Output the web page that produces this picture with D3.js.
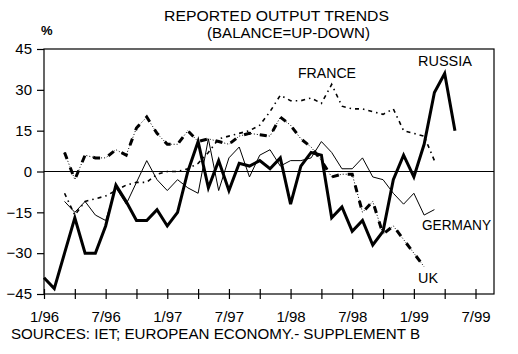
<!DOCTYPE html>
<html>
<head>
<meta charset="utf-8">
<script src="https://cdn.jsdelivr.net/npm/d3@7"></script>
<style>
  body { margin: 0; background: #fff; }
  svg text { font-family: "Liberation Sans", Arial, sans-serif; fill: #000; }
</style>
</head>
<body>
<div class="chartContainer"></div>
<script>
// month index 0 = 1/96
const months = d3.range(0, 41);
const tickLabels = ["1/96", "7/96", "1/97", "7/97", "1/98", "7/98", "1/99", "7/99"];
const yTicks = [-45, -30, -15, 0, 15, 30, 45];

const russia = [-39, -43, -30, -17, -30, -30, -20, -5, -11, -18, -18, -14, -20, -15, 0, 11, -6, 4, -7, 3,
  2, 4, 1, 5, -12, 2, 7, 6, -17, -13, -22, -18, -27, -22, -3, 6, -2, 10, 29, 36, 15];
const france = [null, null, -8, -16, -11, -10, -9, -7, -5, -4, -4, -1, 0, 0, 1, 3, 7, 12, 13, 14,
  15, 17, 22, 28, 26, 26, 27, 25, 32, 24, 23, 23, 22, 21, 23, 15, 14, 13, 4, null, null];
const germany = [null, null, -11, -15, -11, -16, -18, -6, -12, -4, 4, -3, -7, -3, -6, -8, 12, -7, 5, 9,
  -2, 6, 8, 2, 4, 4, 5, 11, 7, 1, 1, 5, -2, -3, -8, -12, -8, -16, -14, null, null];
const uk = [null, null, 7, -3, 6, 5, 5, 8, 6, 16, 20, 14, 10, 10, 15, 11, 12, 11, 10, 13,
  14, 13.5, 13, 20, 17, 12, 9, 4, -2, -1, -1, -15, -11, -23, -20, -25, -30, -35, null, null, null];

(function () {
  const w = 518;
  const h = 354;
  const pLeft = 44;
  const pRight = 494;
  const pTop = 49;
  const pBottom = 294;
  const xMax = 43.8;

  const svg = d3
    .select(".chartContainer")
    .append("svg")
    .attr("width", w)
    .attr("height", h);

  const xScale = d3.scaleLinear().domain([0, xMax]).range([pLeft, pRight]);
  const yScale = d3.scaleLinear().domain([-45, 45]).range([pBottom, pTop]);

  // titles
  svg.append("text")
    .attr("x", 276.5).attr("y", 21)
    .attr("text-anchor", "middle")
    .attr("textLength", 225).attr("lengthAdjust", "spacingAndGlyphs")
    .style("font-size", "14px")
    .text("REPORTED OUTPUT TRENDS");
  svg.append("text")
    .attr("x", 288.5).attr("y", 38)
    .attr("text-anchor", "middle")
    .attr("textLength", 163).attr("lengthAdjust", "spacingAndGlyphs")
    .style("font-size", "14px")
    .text("(BALANCE=UP-DOWN)");
  svg.append("text")
    .attr("x", 41).attr("y", 35)
    .style("font-size", "13px")
    .style("font-weight", "bold")
    .text("%");

  // frame
  svg.append("rect")
    .attr("x", pLeft).attr("y", pTop)
    .attr("width", pRight - pLeft).attr("height", pBottom - pTop)
    .attr("fill", "none").attr("stroke", "#000").attr("stroke-width", 1.2);

  // zero line
  svg.append("line")
    .attr("x1", pLeft).attr("x2", pRight)
    .attr("y1", yScale(0)).attr("y2", yScale(0))
    .attr("stroke", "#000").attr("stroke-width", 1.2);

  // Y axis
  const yAxis = d3.axisLeft(yScale).tickValues(yTicks).tickSize(7).tickPadding(5);
  const yAxisHandle = svg.append("g")
    .attr("transform", "translate(" + pLeft + ",0)")
    .call(yAxis);
  yAxisHandle.select(".domain").remove();
  yAxisHandle.selectAll("line").attr("stroke-width", 1.2);
  yAxisHandle.selectAll("text")
    .attr("x", -12)
    .style("font-size", "15px")
    .style("font-family", "Liberation Sans, Arial, sans-serif");

  // X axis, a tick every quarter, a label every half year
  const xAxis = d3.axisBottom(xScale)
    .tickValues(d3.range(0, 43, 3))
    .tickSize(5)
    .tickFormat((d, i) => (i % 2 === 0 ? tickLabels[i / 2] : ""));
  const xAxisHandle = svg.append("g")
    .attr("transform", "translate(0," + pBottom + ")")
    .call(xAxis);
  xAxisHandle.select(".domain").remove();
  xAxisHandle.selectAll("line").attr("y1", -5).attr("y2", 5).attr("stroke-width", 1.2);
  xAxisHandle.selectAll("text")
    .attr("y", 28).attr("dy", 0)
    .style("font-size", "15px")
    .style("font-family", "Liberation Sans, Arial, sans-serif");

  // lines
  const line = (arr) =>
    d3.line()
      .defined((d) => arr[d] !== null)
      .x((d) => xScale(d))
      .y((d) => yScale(arr[d]))(months);

  svg.append("path")
    .attr("d", line(germany))
    .attr("fill", "none").attr("stroke", "#000").attr("stroke-width", 1);

  svg.append("path")
    .attr("d", line(france))
    .attr("fill", "none").attr("stroke", "#000").attr("stroke-width", 1.6)
    .attr("stroke-dasharray", "4,4,1.5,4");

  svg.append("path")
    .attr("d", line(uk))
    .attr("fill", "none").attr("stroke", "#000").attr("stroke-width", 1)
    .attr("stroke-dasharray", "1,2");
  svg.append("path")
    .attr("d", line(uk))
    .attr("fill", "none").attr("stroke", "#000").attr("stroke-width", 3)
    .attr("stroke-dasharray", "7,9");

  svg.append("path")
    .attr("d", line(russia))
    .attr("fill", "none").attr("stroke", "#000").attr("stroke-width", 3)
    .attr("stroke-linejoin", "miter");

  // series labels
  const labels = [
    { t: "RUSSIA", x: 418, y: 66, len: 54 },
    { t: "FRANCE", x: 298, y: 78, len: 58 },
    { t: "GERMANY", x: 422, y: 230, len: 69 },
    { t: "UK", x: 418, y: 283, len: 20 }
  ];
  svg.selectAll(".lbl")
    .data(labels)
    .enter()
    .append("text")
    .attr("class", "lbl")
    .attr("x", (d) => d.x).attr("y", (d) => d.y)
    .attr("textLength", (d) => d.len).attr("lengthAdjust", "spacingAndGlyphs")
    .style("font-size", "14px")
    .text((d) => d.t);

  svg.append("text")
    .attr("x", 11).attr("y", 339)
    .attr("textLength", 409).attr("lengthAdjust", "spacingAndGlyphs")
    .style("font-size", "14px")
    .text("SOURCES: IET; EUROPEAN ECONOMY.- SUPPLEMENT B");
})();
</script>
</body>
</html>
